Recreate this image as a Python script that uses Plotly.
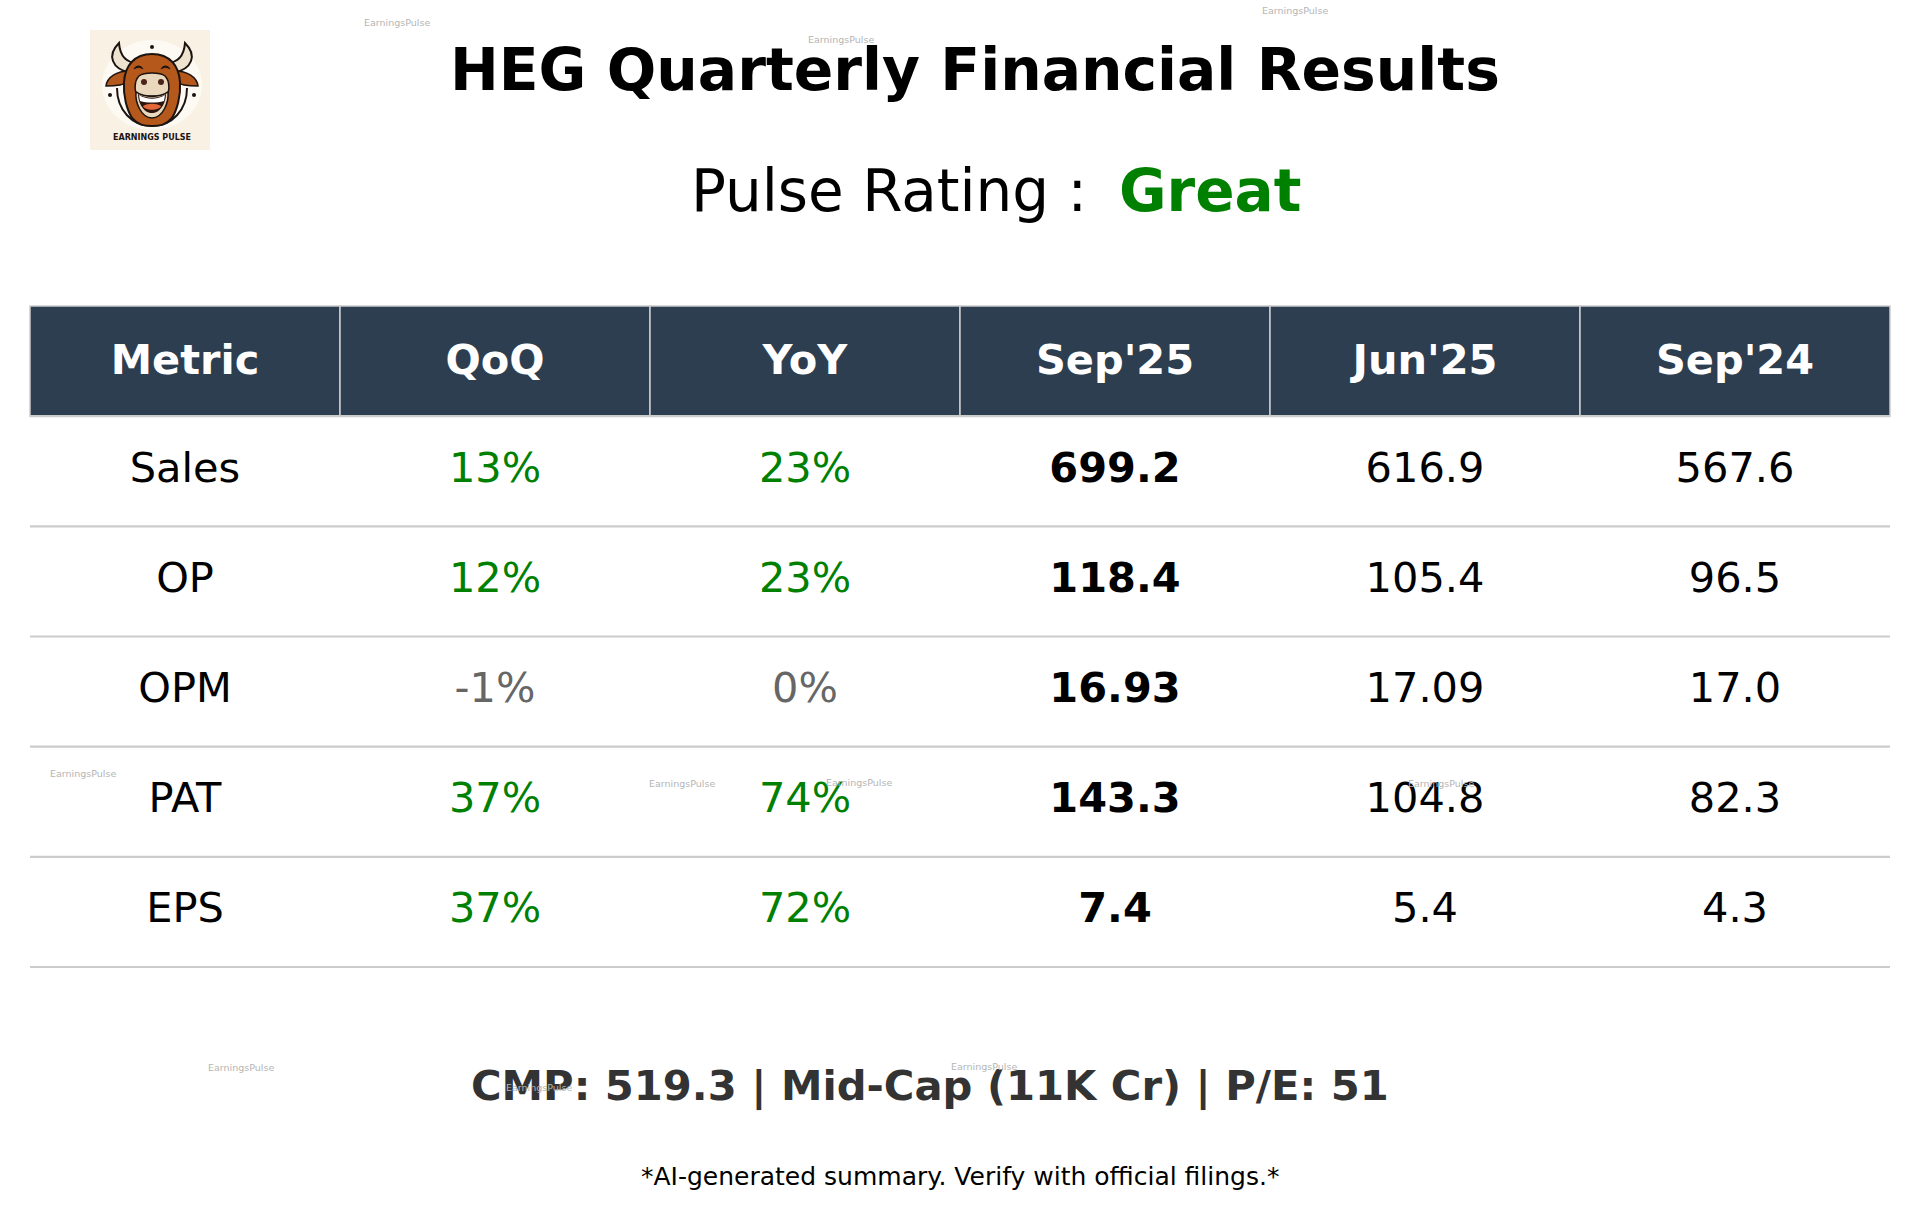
import plotly.graph_objects as go

W, H = 1919, 1220
# table edges in page pixels, plus a little room so border lines are not clipped
TABLE_L, TABLE_R, TABLE_T, TABLE_B = 30, 1890, 306, 967
PAD_X, PAD_Y = 16, 11
M_L, M_R, M_T, M_B = TABLE_L - PAD_X, W - TABLE_R - PAD_X, TABLE_T - PAD_Y, H - TABLE_B - PAD_Y

# --- table data ---
columns = ["Metric", "QoQ", "YoY", "Sep'25", "Jun'25", "Sep'24"]
metrics = ["Sales", "OP", "OPM", "PAT", "EPS"]
qoq = ["13%", "12%", "-1%", "37%", "37%"]
yoy = ["23%", "23%", "0%", "74%", "72%"]
sep25 = ["699.2", "118.4", "16.93", "143.3", "7.4"]
jun25 = ["616.9", "105.4", "17.09", "104.8", "5.4"]
sep24 = ["567.6", "96.5", "17.0", "82.3", "4.3"]

title = "HEG Quarterly Financial Results"
rating_label = "Pulse Rating :"
rating = "Great"
summary = "CMP: 519.3 | Mid-Cap (11K Cr) | P/E: 51"
footnote = "*AI-generated summary. Verify with official filings.*"
watermark = "EarningsPulse"

FONT = "DejaVu Sans"
NAVY = "#2c3e50"
GRID = "#cccccc"
GREEN = "#008000"
GREY = "#666666"
CELL_SIZE = 41.5


def change_color(txt):
    return GREY if txt in ("-1%", "0%") else GREEN


# paper coords are relative to the plot area, so convert from page pixels
def px_x(x):
    return (x - M_L) / (W - M_L - M_R)


def px_y(y):
    return 1 - (y - M_T) / (H - M_T - M_B)


def label(x, y, text, size, color="black", bold=False):
    return dict(
        x=px_x(x), y=px_y(y), xref="paper", yref="paper", text=f"<b>{text}</b>" if bold else text,
        showarrow=False, xanchor="center", yanchor="middle",
        font=dict(family=FONT, size=size, color=color),
    )


fig = go.Figure()

# header cells
fig.add_trace(go.Bar(
    x=list(range(len(columns))), y=[1] * len(columns), base=-0.5, width=1,
    marker=dict(color=NAVY, line=dict(color=GRID, width=1.5)), hoverinfo="skip",
))
# small nudge so the header text sits on the cell's middle like the reference
fig.add_trace(go.Scatter(
    x=list(range(len(columns))), y=[0.02] * len(columns), mode="text",
    text=[f"<b>{c}</b>" for c in columns],
    textfont=dict(family=FONT, size=CELL_SIZE, color="white"), hoverinfo="skip",
))

# body cells, one trace per column
rows = list(range(1, len(metrics) + 1))
body = [
    (metrics, ["black"] * 5, False),
    (qoq, [change_color(t) for t in qoq], False),
    (yoy, [change_color(t) for t in yoy], False),
    (sep25, ["black"] * 5, True),
    (jun25, ["black"] * 5, False),
    (sep24, ["black"] * 5, False),
]
for i, (vals, colors, bold) in enumerate(body):
    fig.add_trace(go.Scatter(
        x=[i] * len(vals), y=rows, mode="text",
        text=[f"<b>{v}</b>" if bold else v for v in vals],
        textfont=dict(family=FONT, size=CELL_SIZE, color=colors), hoverinfo="skip",
    ))

# row rules
shapes = []
for r in [0] + rows:
    shapes.append(dict(
        type="line", xref="x", yref="y", x0=-0.5, x1=len(columns) - 0.5, y0=r + 0.5, y1=r + 0.5,
        line=dict(color=GRID, width=2.2),
    ))


# --- logo, drawn on its own 120 x 120 square ---
LOGO_MID = 62
NONE = "rgba(0,0,0,0)"


def lx(v):
    return px_x(90 + v)


def ly(v):
    return px_y(30 + v)


def path(points, fill, line=None, width=1.5, closed=True):
    d = ""
    for cmd, *xy in points:
        d += cmd + " ".join(
            f"{lx(xy[k]):.5f},{ly(xy[k + 1]):.5f}" for k in range(0, len(xy), 2)
        ) + " "
    return dict(
        type="path", xref="paper", yref="paper", path=d.strip() + (" Z" if closed else ""), fillcolor=fill,
        line=dict(color=line or NONE, width=width if line else 0),
    )


def mirror(points):
    return [(cmd, *[2 * LOGO_MID - v if k % 2 == 0 else v for k, v in enumerate(xy)]) for cmd, *xy in points]


def oval(cx, cy, rx, ry, fill):
    return dict(
        type="circle", xref="paper", yref="paper", x0=lx(cx - rx), x1=lx(cx + rx),
        y0=ly(cy + ry), y1=ly(cy - ry), fillcolor=fill, line=dict(color=NONE, width=0),
    )


DARK = "#1c1410"
BROWN = "#b4581b"
CREAM = "#e9d8bd"
HORN = "#eee3cf"

horn = [("M", 29, 13), ("C", 17, 25, 21, 39, 41, 43), ("L", 48, 33), ("C", 36, 33, 30, 26, 29, 13)]
ear = [("M", 39, 41), ("C", 27, 41, 17, 47, 16, 56), ("C", 24, 56, 34, 55, 37, 52)]
brow = [("M", 44, 39), ("C", 46, 35, 51, 35, 53, 39), ("C", 51, 37, 46, 37, 44, 39)]
ring = [("M", 27, 58), ("C", 27, 80, 42, 96, 62, 96), ("C", 82, 96, 97, 80, 97, 58)]

shapes.append(dict(type="rect", xref="paper", yref="paper", x0=lx(0), x1=lx(120), y0=ly(120), y1=ly(0),
                   fillcolor="#f8f1e4", line=dict(width=0), layer="above"))
logo = [
    oval(LOGO_MID, 55, 50, 45, "#fdfaf4"),
    path(horn, HORN, DARK, 2),
    path(mirror(horn), HORN, DARK, 2),
    path(ear, BROWN, DARK),
    path(mirror(ear), BROWN, DARK),
    path(ring, NONE, DARK, 2, closed=False),
    # head
    path([("M", 62, 24), ("C", 44, 24, 35, 36, 34, 52), ("C", 33, 66, 37, 80, 42, 88),
          ("C", 48, 95, 54, 96, 62, 96), ("C", 70, 96, 76, 95, 82, 88),
          ("C", 87, 80, 91, 66, 90, 52), ("C", 89, 36, 80, 24, 62, 24)], BROWN, DARK, 2),
    # muzzle and mouth
    path([("M", 49, 46), ("C", 54, 42, 70, 42, 75, 46), ("C", 80, 51, 80, 62, 76, 66), ("L", 48, 66),
          ("C", 44, 62, 44, 51, 49, 46)], CREAM, DARK),
    path([("M", 46, 62), ("C", 55, 68, 69, 68, 78, 62), ("C", 79, 72, 73, 88, 62, 88),
          ("C", 51, 88, 45, 72, 46, 62)], CREAM, DARK),
    path([("M", 48, 64), ("C", 56, 69, 68, 69, 76, 64), ("C", 76, 72, 71, 83, 62, 83),
          ("C", 53, 83, 48, 72, 48, 64)], "#2a1510"),
    path([("M", 49, 65), ("C", 57, 70, 67, 70, 75, 65), ("L", 74, 71), ("C", 67, 73, 57, 73, 50, 71)], "#ffffff"),
    path([("M", 53, 76), ("C", 58, 73, 66, 73, 71, 76), ("C", 69, 81, 55, 81, 53, 76)], "#e2683a"),
    oval(54, 52, 3, 3, "#4a2418"),
    oval(71, 52, 3, 3, "#4a2418"),
    path(brow, DARK, DARK, 1),
    path(mirror(brow), DARK, DARK, 1),
    # sparkles
    oval(62, 17, 2, 2, DARK),
    oval(20, 65, 2, 2, DARK),
    oval(104, 65, 2, 2, DARK),
]
shapes += [dict(s, layer="above") for s in logo]

annotations = [
    label(975, 70, title, 58.3, bold=True),
    label(889, 191, rating_label, 58),
    label(1210, 191, rating, 58, color=GREEN, bold=True),
    label(930, 1086, summary, 41.7, color="#333333", bold=True),
    label(960, 1176, footnote, 25),
    label(152, 137, "EARNINGS PULSE", 8, color=DARK, bold=True),
]
for wx, wy in [(397, 22), (841, 39), (1295, 10), (83, 773), (682, 783),
               (859, 782), (1441, 783), (241, 1067), (539, 1087), (984, 1066)]:
    annotations.append(label(wx, wy, watermark, 9.5, color="#b5b5b5"))

col_w = (TABLE_R - TABLE_L) / len(columns)
row_h = (TABLE_B - TABLE_T) / (len(metrics) + 1)

fig.update_layout(
    width=W, height=H, autosize=False,
    margin=dict(l=M_L, r=M_R, t=M_T, b=M_B),
    paper_bgcolor="white", plot_bgcolor="white",
    showlegend=False, barmode="overlay",
    shapes=shapes, annotations=annotations,
    xaxis=dict(range=[-0.5 - PAD_X / col_w, len(columns) - 0.5 + PAD_X / col_w], visible=False, fixedrange=True),
    yaxis=dict(range=[len(metrics) + 0.5 + PAD_Y / row_h, -0.5 - PAD_Y / row_h], visible=False, fixedrange=True),
)

fig.write_html("out.html", config={"displayModeBar": False}, post_script="document.body.style.margin='0';")
